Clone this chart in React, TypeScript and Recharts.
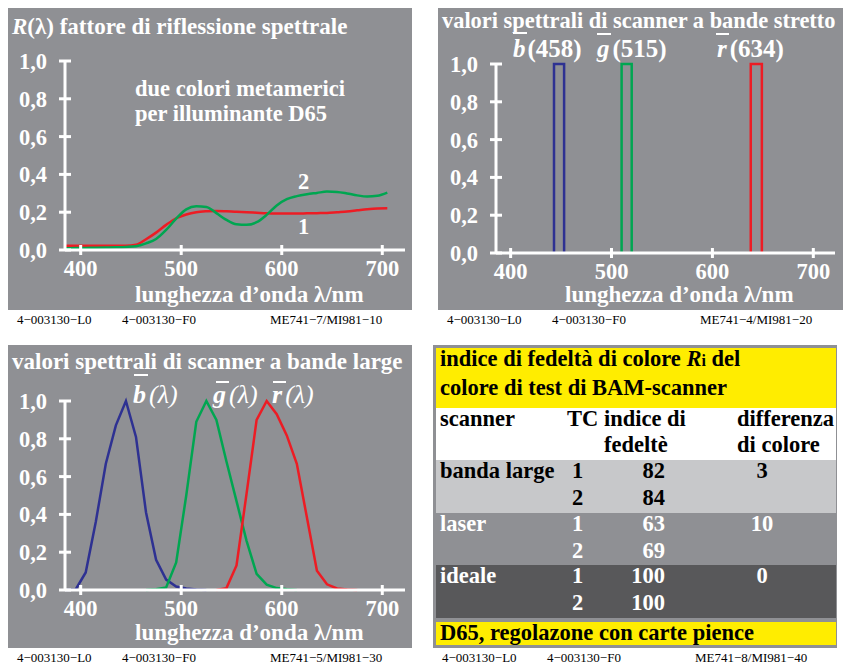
import React from 'react';
import { LineChart, Line, XAxis, YAxis } from 'recharts';

const SERIF = '"Liberation Serif", "Times New Roman", Times, serif';
const GRAY = '#8f9094';
const WHITE = '#ffffff';
const BLUE = '#2e3192';
const GREEN = '#00a651';
const RED = '#ed1c24';
const YELLOW = '#ffed00';

// axis ticks
const xTicks = [400, 500, 600, 700];
const yTicks = [0, 0.2, 0.4, 0.6, 0.8, 1.0];

// panel 1: two metameric colours, reflectance R(lambda)
const metaWl = [385, 395, 405, 415, 425, 435, 445, 455, 465, 475, 485, 495, 505, 515, 525, 535, 545, 555, 565, 575, 585, 595, 605, 615, 625, 635, 645, 655, 665, 675, 685, 695, 705];
const metaR1 = [0.023, 0.023, 0.023, 0.023, 0.023, 0.023, 0.023, 0.028, 0.057, 0.092, 0.133, 0.168, 0.188, 0.2, 0.205, 0.207, 0.205, 0.202, 0.2, 0.197, 0.194, 0.193, 0.193, 0.193, 0.194, 0.195, 0.196, 0.2, 0.204, 0.21, 0.216, 0.22, 0.221];
const metaR2 = [0.009, 0.01, 0.011, 0.012, 0.013, 0.014, 0.016, 0.02, 0.035, 0.058, 0.106, 0.166, 0.215, 0.232, 0.228, 0.195, 0.159, 0.136, 0.133, 0.147, 0.186, 0.236, 0.269, 0.285, 0.295, 0.302, 0.309, 0.307, 0.299, 0.289, 0.283, 0.287, 0.304];

// panel 2: narrow band scanner
const narrowBlueWl = [443, 443, 453, 453];
const narrowGreenWl = [510, 510, 520, 520];
const narrowRedWl = [638, 638, 649, 649];
const narrowVal = [0, 1, 1, 0];

// panel 3: broad band scanner
const broadBlueWl = [385, 395, 405, 415, 425, 435, 445, 455, 465, 475, 485, 495, 505, 515, 525];
const broadBlue = [0, 0.003, 0.093, 0.36, 0.668, 0.871, 1.0, 0.81, 0.41, 0.16, 0.055, 0.018, 0.008, 0.003, 0];
const broadGreenWl = [465, 475, 485, 495, 505, 515, 525, 535, 545, 555, 565, 575, 585, 595, 605, 615];
const broadGreen = [0, 0.004, 0.014, 0.146, 0.5, 0.89, 1.0, 0.9, 0.68, 0.47, 0.26, 0.085, 0.028, 0.01, 0.004, 0];
const broadRedWl = [535, 545, 555, 565, 575, 585, 595, 605, 615, 625, 635, 645, 655, 665, 675];
const broadRed = [0, 0.01, 0.13, 0.51, 0.9, 1.0, 0.93, 0.818, 0.668, 0.385, 0.102, 0.03, 0.008, 0.003, 0];

// table
const scanners = ['banda large', 'laser', 'ideale'];
const fidelity = [[82, 84], [63, 69], [100, 100]];
const colourDiff = ['3', '10', '0'];

const toRows = (xs: number[], ys: number[]) => xs.map((wl, i) => ({ wl, v: ys[i] }));
const fmt = (v: number) => v.toFixed(1).replace('.', ',');

function YTick({ x, y, payload }: any) {
  return (
    <g>
      <line x1={x - 6} x2={x + 6} y1={y} y2={y} stroke={WHITE} strokeWidth={3} />
      <text x={x - 18} y={y + 8} textAnchor="end" fill={WHITE} fontSize={22.5} fontWeight="bold" fontFamily={SERIF}>
        {fmt(payload.value)}
      </text>
    </g>
  );
}

function XTick({ x, y, payload }: any) {
  return (
    <g>
      <line x1={x} x2={x} y1={y - 5} y2={y + 5} stroke={WHITE} strokeWidth={3} />
      <text x={x} y={y + 26} textAnchor="middle" fill={WHITE} fontSize={22.5} fontWeight="bold" fontFamily={SERIF}>
        {payload.value}
      </text>
    </g>
  );
}

function SpectrumChart({ left, top, width, height, yw, xh, mtop, mright, domain, series }: any) {
  return (
    <div style={{ position: 'absolute', left, top }}>
      <LineChart width={width} height={height} margin={{ top: mtop, right: mright, bottom: 0, left: 0 }}>
        <XAxis
          type="number"
          dataKey="wl"
          domain={domain}
          ticks={xTicks}
          interval={0}
          height={xh}
          allowDataOverflow
          axisLine={{ stroke: WHITE, strokeWidth: 3 }}
          tickLine={false}
          tickSize={0}
          tickMargin={0}
          tick={(p: any) => <XTick {...p} />}
        />
        <YAxis
          type="number"
          domain={[0, 1]}
          ticks={yTicks}
          interval={0}
          width={yw}
          axisLine={{ stroke: WHITE, strokeWidth: 3 }}
          tickLine={false}
          tickSize={0}
          tickMargin={0}
          tick={(p: any) => <YTick {...p} />}
        />
        {series.map((s: any, i: number) => (
          <Line
            key={i}
            data={s.data}
            dataKey="v"
            type={s.type}
            stroke={s.color}
            strokeWidth={2.5}
            dot={false}
            isAnimationActive={false}
          />
        ))}
      </LineChart>
    </div>
  );
}

function Txt({ x, base, size = 22.5, color = WHITE, weight = 'bold', anchor = 'start', children }: any) {
  const shift = anchor === 'middle' ? '-50%' : anchor === 'end' ? '-100%' : '0';
  return (
    <div
      style={{
        position: 'absolute',
        left: x,
        top: base - size * 0.8375,
        transform: `translateX(${shift})`,
        fontFamily: SERIF,
        fontSize: size,
        fontWeight: weight,
        color,
        lineHeight: `${size}px`,
        whiteSpace: 'nowrap',
      }}
    >
      {children}
    </div>
  );
}

function Bar({ x, y, w, h = 2, color = WHITE }: any) {
  return <div style={{ position: 'absolute', left: x, top: y, width: w, height: h, background: color }} />;
}

function Box({ x, y, w, h, color }: any) {
  return <div style={{ position: 'absolute', left: x, top: y, width: w, height: h, background: color }} />;
}

function Footer({ x0, base, code }: any) {
  return (
    <>
      <Txt x={x0} base={base} size={13} color="#000" weight="normal">4−003130−L0</Txt>
      <Txt x={x0 + 105} base={base} size={13} color="#000" weight="normal">4−003130−F0</Txt>
      <Txt x={x0 + 253} base={base} size={13} color="#000" weight="normal">{code}</Txt>
    </>
  );
}

export default function App() {
  const metaSeries = [
    { data: toRows(metaWl, metaR1), color: RED, type: 'monotone' },
    { data: toRows(metaWl, metaR2), color: GREEN, type: 'monotone' },
  ];
  const narrowSeries = [
    { data: toRows(narrowBlueWl, narrowVal), color: BLUE, type: 'linear' },
    { data: toRows(narrowGreenWl, narrowVal), color: GREEN, type: 'linear' },
    { data: toRows(narrowRedWl, narrowVal), color: RED, type: 'linear' },
  ];
  const broadSeries = [
    { data: toRows(broadBlueWl, broadBlue), color: BLUE, type: 'linear' },
    { data: toRows(broadGreenWl, broadGreen), color: GREEN, type: 'linear' },
    { data: toRows(broadRedWl, broadRed), color: RED, type: 'linear' },
  ];
  const rowColors = ['#c7c8ca', GRAY, '#58585a'];
  const rowText = ['#000', WHITE, WHITE];
  const rowTop = [460, 513, 565];
  const lam = { fontWeight: 'normal', fontStyle: 'italic' } as const;

  return (
    <div style={{ position: 'absolute', left: 0, top: 0, width: 843, height: 664, background: '#fff', overflow: 'hidden' }}>
      {/* panel 1 */}
      <Box x={8} y={8} w={404} h={302} color={GRAY} />
      <SpectrumChart left={8} top={8} width={404} height={302} yw={57} xh={60} mtop={53} mright={7} domain={[384.4, 722.6]} series={metaSeries} />
      <Txt x={12} base={34} size={23}><i>R</i>(λ) fattore di riflessione spettrale</Txt>
      <Txt x={135} base={97}>due colori metamerici</Txt>
      <Txt x={135} base={122}>per illuminante D65</Txt>
      <Txt x={298} base={190}>2</Txt>
      <Txt x={298} base={235}>1</Txt>
      <Txt x={135} base={302} size={23}>lunghezza d’onda λ/nm</Txt>
      <Footer x0={17} base={324} code="ME741−7/MI981−10" />

      {/* panel 2 */}
      <Box x={438} y={8} w={405} h={302} color={GRAY} />
      <SpectrumChart left={438} top={8} width={405} height={302} yw={58} xh={57} mtop={56} mright={8} domain={[385.5, 721.5]} series={narrowSeries} />
      <Txt x={442} base={29} size={22.4}>valori spettrali di scanner a bande stretto</Txt>
      <Txt x={513} base={57} size={25}><i>b</i><span style={{ marginLeft: 2 }}>(458)</span></Txt>
      <Txt x={597} base={57} size={25}><i>g</i><span style={{ marginLeft: 3 }}>(515)</span></Txt>
      <Txt x={717} base={57} size={25}><i>r</i><span style={{ marginLeft: 3 }}>(634)</span></Txt>
      <Bar x={513} y={32} w={14} />
      <Bar x={597} y={33} w={14} />
      <Bar x={716} y={33} w={13} />
      <Txt x={565} base={302} size={23}>lunghezza d’onda λ/nm</Txt>
      <Footer x0={447} base={324} code="ME741−4/MI981−20" />

      {/* panel 3 */}
      <Box x={8} y={345} w={404} h={303} color={GRAY} />
      <SpectrumChart left={8} top={345} width={404} height={303} yw={57} xh={58} mtop={56} mright={7} domain={[384.4, 722.6]} series={broadSeries} />
      <Txt x={12} base={369} size={23}>valori spettrali di scanner a bande large</Txt>
      <Txt x={133} base={404} size={26}><i>b</i><span style={{ ...lam, marginLeft: 3 }}>(λ)</span></Txt>
      <Txt x={213} base={404} size={26}><i>g</i><span style={{ ...lam, marginLeft: 3 }}>(λ)</span></Txt>
      <Txt x={272} base={404} size={26}><i>r</i><span style={{ ...lam, marginLeft: 3 }}>(λ)</span></Txt>
      <Bar x={134} y={374} w={14} />
      <Bar x={216} y={381} w={13} />
      <Bar x={273} y={381} w={13} />
      <Txt x={135} base={640} size={23}>lunghezza d’onda λ/nm</Txt>
      <Footer x0={17} base={662} code="ME741−5/MI981−30" />

      {/* panel 4: table */}
      <Box x={433} y={345} w={404} h={303} color={GRAY} />
      <Box x={436} y={348} w={400} h={60} color={YELLOW} />
      <Box x={436} y={408} w={400} h={52} color={WHITE} />
      {scanners.map((_, i) => (
        <Box key={i} x={436} y={rowTop[i]} w={400} h={53} color={rowColors[i]} />
      ))}
      <Box x={436} y={622} w={400} h={23} color={YELLOW} />
      <Txt x={440} base={367} color="#000">indice di fedeltà di colore <i>R</i><span style={{ fontSize: 16 }}>i</span> del</Txt>
      <Txt x={440} base={396} color="#000">colore di test di BAM-scanner</Txt>
      <Txt x={440} base={427} color="#000">scanner</Txt>
      <Txt x={567} base={427} color="#000">TC indice di</Txt>
      <Txt x={604} base={453} color="#000">fedeltè</Txt>
      <Txt x={737} base={427} color="#000">differenza</Txt>
      <Txt x={737} base={453} color="#000">di colore</Txt>
      {scanners.map((name, i) => {
        const b1 = rowTop[i] + 19;
        const b2 = b1 + 26.5;
        const c = rowText[i];
        return (
          <React.Fragment key={name}>
            <Txt x={440} base={b1} color={c}>{name}</Txt>
            <Txt x={572} base={b1} color={c}>1</Txt>
            <Txt x={572} base={b2} color={c}>2</Txt>
            <Txt x={665} base={b1} color={c} anchor="end">{fidelity[i][0]}</Txt>
            <Txt x={665} base={b2} color={c} anchor="end">{fidelity[i][1]}</Txt>
            <Txt x={762} base={b1} color={c} anchor="middle">{colourDiff[i]}</Txt>
          </React.Fragment>
        );
      })}
      <Txt x={440} base={641} color="#000">D65, regolazone con carte pience</Txt>
      <Footer x0={442} base={662} code="ME741−8/MI981−40" />
    </div>
  );
}
